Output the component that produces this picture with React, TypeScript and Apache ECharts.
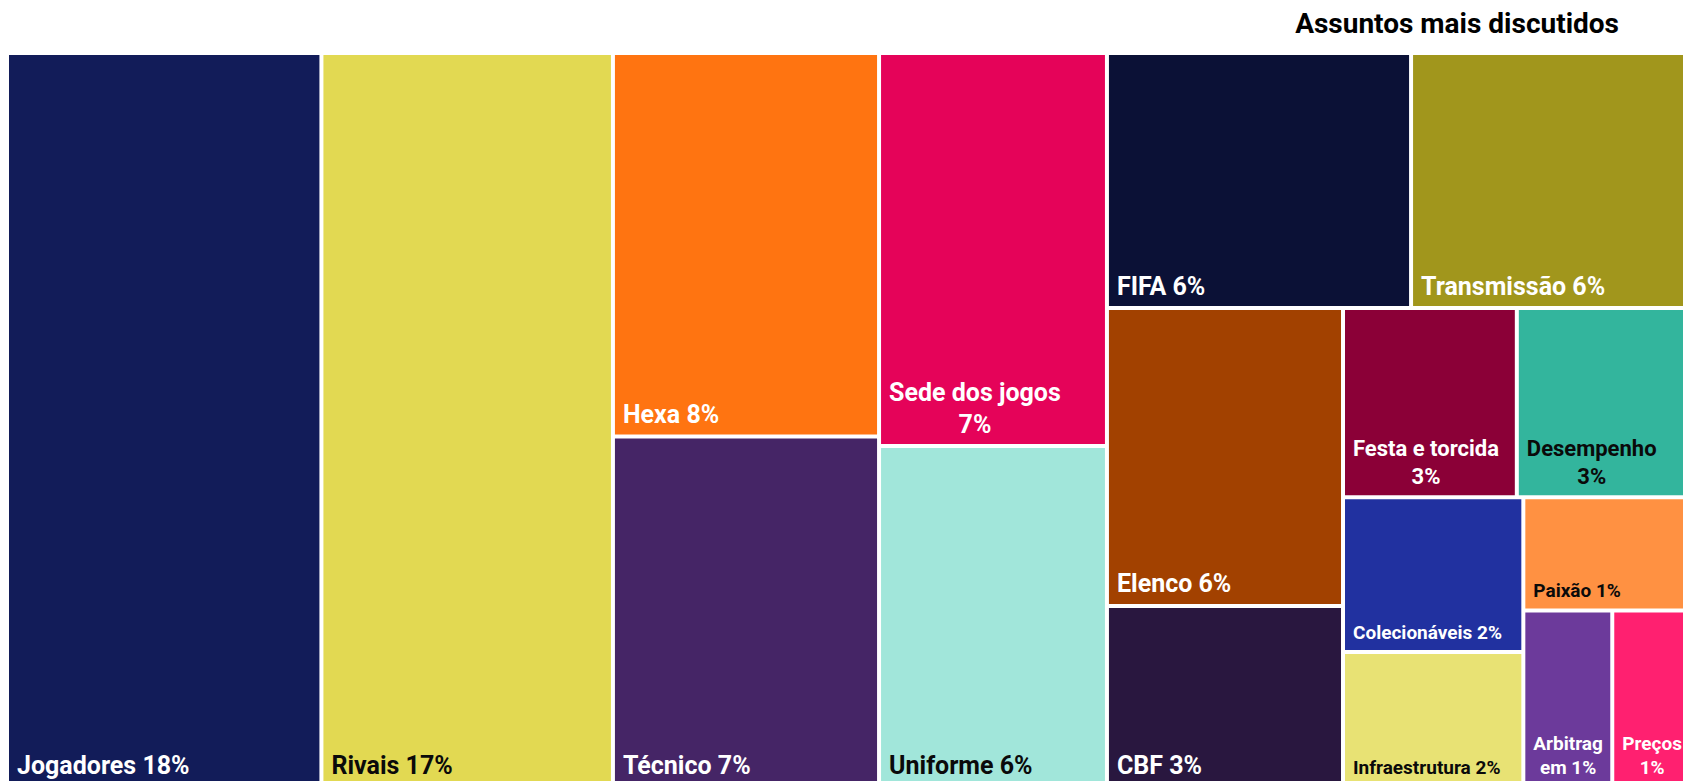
import React, { useEffect, useRef } from 'react';
import * as echarts from 'echarts';

// ---------- data ----------
const topics = [
  'Jogadores', 'Rivais', 'Hexa', 'Técnico', 'Sede dos jogos', 'Uniforme', 'FIFA',
  'Transmissão', 'Elenco', 'CBF', 'Festa e torcida', 'Desempenho', 'Colecionáveis',
  'Infraestrutura', 'Paixão', 'Arbitragem', 'Preços',
];
// share of mentions (%), estimated from the tile areas
const shares = [18.68, 17.32, 8.26, 7.55, 7.25, 6.29, 6.28, 5.76, 5.69, 3.46, 2.66, 2.65, 2.26, 1.97, 1.53, 1.27, 1.11];
// percentages as printed on the tiles
const shownPercent = [18, 17, 8, 7, 7, 6, 6, 6, 6, 3, 3, 3, 2, 2, 1, 1, 1];
const TITLE = 'Assuntos mais discutidos';

// ---------- styles ----------
const fills = [
  '#121c59', '#e2d952', '#ff7411', '#452566', '#e50359', '#a1e6da', '#0b1136',
  '#a1961c', '#a24100', '#29173f', '#8b0037', '#33b59d', '#2131a0',
  '#e8e274', '#ff9142', '#6c3a9b', '#ff2070',
];
const DARK = '#0a0a0a';
const LIGHT = '#ffffff';
const inks = [
  LIGHT, DARK, LIGHT, LIGHT, LIGHT, DARK, LIGHT,
  LIGHT, LIGHT, LIGHT, LIGHT, DARK, LIGHT,
  DARK, DARK, LIGHT, LIGHT,
];

const PAGE_W = 1683;
const PAGE_H = 781;
const CANVAS_W = 1720; // chart drawn a little larger than the page; the page crops it
const CANVAS_H = 810;
const GRID = { left: 7, top: 53, width: 1683, height: 734 };
const SQUEEZE = 0.82; // layout is computed in a vertically compressed space
const HALF_GAP = 2;
const PAD_X = 8;
const SLACK = 6;
const BASE_OFF = 11.5;
const FONT_FAMILY = 'Roboto';

// ---------- squarified layout (d3-style, ratio 1) ----------
function squarify(values: number[], width: number, height: number): number[][] {
  const order = values.map((_, i) => i).sort((a, b) => values[b] - values[a]);
  const rects: number[][] = new Array(values.length);
  let x0 = 0, y0 = 0;
  const x1 = width, y1 = height;
  let remaining = values.reduce((s, v) => s + v, 0);
  const n = order.length;
  let i0 = 0, i1 = 0;
  while (i0 < n) {
    const dx = x1 - x0, dy = y1 - y0;
    let sum = values[order[i1++]];
    let minV = sum, maxV = sum;
    const alpha = Math.max(dy / dx, dx / dy) / remaining;
    let beta = sum * sum * alpha;
    let minRatio = Math.max(maxV / beta, beta / minV);
    for (; i1 < n; ++i1) {
      const v = values[order[i1]];
      const s2 = sum + v;
      const mn = Math.min(minV, v), mx = Math.max(maxV, v);
      beta = s2 * s2 * alpha;
      const r = Math.max(mx / beta, beta / mn);
      if (r > minRatio) break;
      sum = s2; minV = mn; maxV = mx; minRatio = r;
    }
    const row = order.slice(i0, i1);
    const last = i1 >= n;
    if (dx < dy) {
      const t = last ? dy : (dy * sum) / remaining;
      let cx = x0;
      row.forEach((idx, k) => {
        const w = k === row.length - 1 ? x1 - cx : (dx * values[idx]) / sum;
        rects[idx] = [cx, y0, cx + w, y0 + t];
        cx += w;
      });
      y0 += t;
    } else {
      const t = last ? dx : (dx * sum) / remaining;
      let cy = y0;
      row.forEach((idx, k) => {
        const h = k === row.length - 1 ? y1 - cy : (dy * values[idx]) / sum;
        rects[idx] = [x0, cy, x0 + t, cy + h];
        cy += h;
      });
      x0 += t;
    }
    remaining -= sum;
    i0 = i1;
  }
  return rects;
}

// ---------- text helpers ----------
let measureCtx: CanvasRenderingContext2D | null = null;
function ctx(): CanvasRenderingContext2D {
  if (!measureCtx) measureCtx = document.createElement('canvas').getContext('2d');
  return measureCtx as CanvasRenderingContext2D;
}
function measure(text: string, font: string): number {
  const c = ctx();
  c.font = font;
  return c.measureText(text).width;
}
function centralShift(font: string): number {
  const c = ctx();
  c.font = font;
  const m: any = c.measureText('H');
  const asc = m.fontBoundingBoxAscent ?? 0;
  const desc = m.fontBoundingBoxDescent ?? 0;
  return (asc - desc) / 2;
}
// wraps a word sequence; a word longer than the width is broken by characters
function wrapWords(text: string, font: string, maxW: number): string[] {
  const words = text.split(' ');
  const lines: string[] = [];
  let cur = '';
  for (const w of words) {
    const cand = cur ? cur + ' ' + w : w;
    if (measure(cand, font) <= maxW) { cur = cand; continue; }
    if (cur) { lines.push(cur); cur = ''; }
    if (measure(w, font) <= maxW) { cur = w; continue; }
    let piece = '';
    for (const ch of Array.from(w)) {
      if (!piece || measure(piece + ch, font) <= maxW) piece += ch;
      else { lines.push(piece); piece = ch; }
    }
    cur = piece;
  }
  if (cur) lines.push(cur);
  return lines;
}
function labelLines(name: string, pct: string, font: string, tileW: number): string[] {
  const strict = tileW - 2 * PAD_X - SLACK;
  const lenient = tileW - PAD_X - 2;
  const full = `${name} ${pct}`;
  if (measure(full, font) <= strict) return [full];
  const lines = wrapWords(name, font, lenient);
  const lastLine = lines[lines.length - 1];
  if (measure(`${lastLine} ${pct}`, font) <= strict) lines[lines.length - 1] = `${lastLine} ${pct}`;
  else lines.push(pct);
  return lines;
}
function fontSizeFor(area: number): number {
  if (area >= 40000) return 25;
  if (area >= 30000) return 22;
  return 19;
}

export default function App() {
  const ref = useRef<HTMLDivElement>(null);

  useEffect(() => {
    document.body.style.margin = '0';
    if (!ref.current) return;
    const chart = echarts.init(ref.current, null, { renderer: 'svg' });

    const layoutW = GRID.width;
    const layoutH = GRID.height * SQUEEZE;
    const rects = squarify(shares, layoutW, layoutH);
    const data = rects.map((r, i) => [r[0] / layoutW, r[1] / layoutH, r[2] / layoutW, r[3] / layoutH, i]);

    const option: any = {
      animation: false,
      backgroundColor: '#ffffff',
      grid: { left: GRID.left, top: GRID.top, width: GRID.width, height: GRID.height, containLabel: false },
      xAxis: { type: 'value', min: 0, max: 1, show: false },
      yAxis: { type: 'value', min: 0, max: 1, inverse: true, show: false },
      graphic: [
        {
          type: 'text',
          x: 1619,
          y: 23.5,
          style: {
            text: TITLE,
            fill: '#000000',
            font: `bold 28px ${FONT_FAMILY}`,
            align: 'right',
            verticalAlign: 'middle',
          },
        },
      ],
      series: [
        {
          type: 'custom',
          coordinateSystem: 'cartesian2d',
          clip: false,
          data,
          encode: { x: [0, 2], y: [1, 3] },
          renderItem: (params: any, api: any) => {
            const i = api.value(4);
            const a = api.coord([api.value(0), api.value(1)]);
            const b = api.coord([api.value(2), api.value(3)]);
            const left = Math.min(a[0], b[0]) + HALF_GAP;
            const right = Math.max(a[0], b[0]) - HALF_GAP;
            const top = Math.min(a[1], b[1]) + HALF_GAP;
            const bottom = Math.max(a[1], b[1]) - HALF_GAP;
            const w = right - left;
            const h = bottom - top;
            const fs = fontSizeFor(w * h);
            const font = `bold ${fs}px ${FONT_FAMILY}`;
            const lines = labelLines(topics[i], `${shownPercent[i]}%`, font, w);
            const blockW = Math.max(...lines.map((l) => measure(l, font)));
            const cx = left + PAD_X + blockW / 2;
            const lh = fs * 1.25;
            const shift = centralShift(font);
            const children: any[] = [
              { type: 'rect', shape: { x: left, y: top, width: w, height: h }, style: { fill: fills[i] } },
            ];
            lines.forEach((line, k) => {
              const baseline = bottom - BASE_OFF - (lines.length - 1 - k) * lh;
              children.push({
                type: 'text',
                x: cx,
                y: baseline - shift,
                style: {
                  text: line,
                  fill: inks[i],
                  font,
                  align: 'center',
                  verticalAlign: 'middle',
                },
              });
            });
            return { type: 'group', children };
          },
        },
      ],
    };

    chart.setOption(option);
    return () => chart.dispose();
  }, []);

  return (
    <div style={{ width: PAGE_W, height: PAGE_H, overflow: 'hidden', background: '#fff' }}>
      <div ref={ref} style={{ width: CANVAS_W, height: CANVAS_H }} />
    </div>
  );
}
